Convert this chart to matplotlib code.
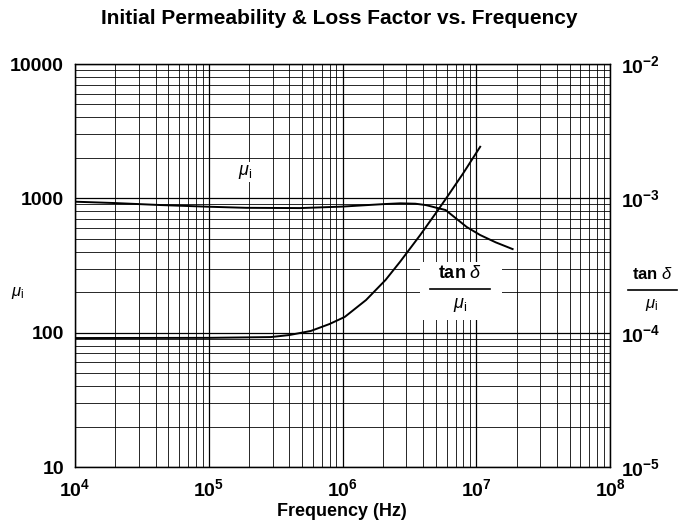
import numpy as np
import matplotlib
matplotlib.use("Agg")
from matplotlib import pyplot as plt
from matplotlib.ticker import LogLocator, NullFormatter, FixedLocator
from matplotlib.lines import Line2D

plt.rcParams['font.family'] = ['Liberation Sans', 'DejaVu Sans']
plt.rcParams['mathtext.fontset'] = 'custom'
plt.rcParams['mathtext.rm'] = 'Liberation Sans'
plt.rcParams['mathtext.bf'] = 'Liberation Sans:bold'
plt.rcParams['mathtext.it'] = 'Liberation Sans:italic'

# initial permeability mu_i vs frequency
mu_freq = [1e4, 2e4, 4.4e4, 1e5, 1.9e5, 4.8e5, 1e6, 1.35e6, 2e6, 2.7e6, 3.5e6,
           4.2e6, 5.9e6, 8.5e6, 1.07e7, 1.4e7, 1.87e7]
mu_vals = [944, 922, 891, 866, 850, 846, 868, 884, 905, 918, 912,
           891, 818, 611, 533, 470, 419]

# loss factor tan(delta)/mu_i vs frequency
loss_freq = [1e4, 1e5, 2.9e5, 4e5, 5.8e5, 8e5, 1.04e6, 1.5e6, 2.1e6, 2.7e6,
             3.8e6, 5.1e6, 6.0e6, 8e6, 1.07e7]
loss_vals = [9.12e-5, 9.15e-5, 9.27e-5, 9.6e-5, 1.03e-4, 1.16e-4, 1.31e-4, 1.75e-4,
             2.47e-4, 3.38e-4, 5.31e-4, 8.01e-4, 1.01e-3, 1.54e-3, 2.42e-3]

x_ticks = [1e4, 1e5, 1e6, 1e7, 1e8]
x_labels = [r'$\mathbf{10^{4}}$', r'$\mathbf{10^{5}}$', r'$\mathbf{10^{6}}$', r'$\mathbf{10^{7}}$', r'$\mathbf{10^{8}}$']
left_ticks = [10, 100, 1000, 10000]
left_labels = ['10', '100', '1000', '10000']
right_ticks = [1e-5, 1e-4, 1e-3, 1e-2]
right_labels = [r'$\mathbf{10^{-5}}$', r'$\mathbf{10^{-4}}$', r'$\mathbf{10^{-3}}$', r'$\mathbf{10^{-2}}$']

W, H = 678, 529
fig = plt.figure(figsize=(W / 100, H / 100), dpi=100)
ax = fig.add_axes([75 / W, 1 - 467 / H, 535 / W, 403 / H])
ax.set_xscale('log')
ax.set_yscale('log')
ax.set_xlim(1e4, 1e8)
ax.set_ylim(10, 10000)

ax.xaxis.set_major_locator(FixedLocator(x_ticks))
ax.set_xticklabels(x_labels)
ax.xaxis.set_minor_locator(LogLocator(base=10, subs=np.arange(2, 10)))
ax.xaxis.set_minor_formatter(NullFormatter())
ax.yaxis.set_major_locator(FixedLocator(left_ticks))
ax.set_yticklabels(left_labels, fontweight='bold')
ax.yaxis.set_minor_locator(LogLocator(base=10, subs=np.arange(2, 10)))
ax.yaxis.set_minor_formatter(NullFormatter())
ax.tick_params(which='both', length=0, labelsize=14, pad=8)
ax.grid(True, which='major', color='black', lw=0.9)
ax.grid(True, which='minor', color='black', lw=0.7, alpha=0.85)
for s in ax.spines.values():
    s.set_linewidth(1.0)

ax.plot(mu_freq, mu_vals, color='black', lw=1.4)

ax2 = ax.twinx()
ax2.set_yscale('log')
ax2.set_ylim(1e-5, 1e-2)
ax2.yaxis.set_major_locator(FixedLocator(right_ticks))
ax2.set_yticklabels(right_labels)
ax2.yaxis.set_minor_formatter(NullFormatter())
ax2.tick_params(which='both', length=0, labelsize=14, pad=8)
ax2.plot(loss_freq, loss_vals, color='black', lw=1.4)

def px(x, y):
    return x / W, 1 - y / H

fig.text(*px(339, 18), 'Initial Permeability & Loss Factor vs. Frequency',
         ha='center', va='center', fontsize=15, fontweight='bold')
fig.text(*px(342, 512), 'Frequency (Hz)', ha='center', va='center',
         fontsize=13, fontweight='bold')
fig.text(*px(18, 293), r'$\mu_\mathrm{i}$', ha='center', va='center', fontsize=12)
fig.text(*px(245, 172), r'$\mu_\mathrm{i}$', ha='center', va='center', fontsize=13,
         bbox=dict(facecolor='white', edgecolor='none', pad=1))


def frac(cx, ytop, ybar, ybot, x0, x1, size):
    fig.text(*px(cx, ytop), r'$\mathbf{tan}\ \delta$', ha='center', va='center',
             fontsize=size, zorder=4)
    fig.add_artist(Line2D([x0 / W, x1 / W], [1 - ybar / H, 1 - ybar / H],
                          color='black', lw=1.2, transform=fig.transFigure, zorder=4))
    fig.text(*px(cx, ybot), r'$\mu_\mathrm{i}$', ha='center', va='center',
             fontsize=size, zorder=4)


fig.patches.append(plt.Rectangle(px(420, 320), 82 / W, 58 / H, transform=fig.transFigure,
                                 facecolor='white', edgecolor='none', zorder=2))
frac(460, 273, 289, 305, 430, 490, 13)
frac(652, 274, 290, 305, 628, 677, 12)

fig.savefig('out.png', dpi=100)
